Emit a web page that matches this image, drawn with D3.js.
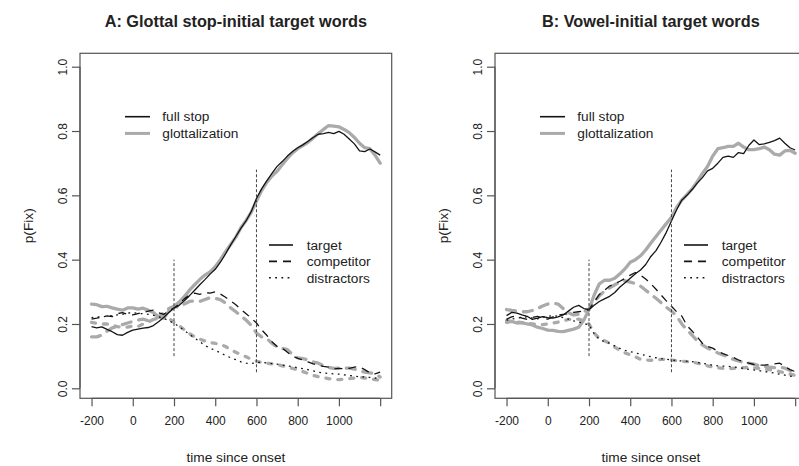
<!DOCTYPE html>
<html>
<head>
<meta charset="utf-8">
<script src="https://cdn.jsdelivr.net/npm/d3@7"></script>
<style>
  body { margin: 0; background: #fff; }
  svg { display: block; }
  text { font-family: "Liberation Sans", Arial, Helvetica, sans-serif; fill: #222; }
</style>
</head>
<body>
<svg id="chart" width="799" height="466"></svg>
<script>
// Time since onset (ms)
const times = [
  -200,-175,-150,-125,-100,-75,-50,-25,0,25,
  50,75,100,125,150,175,200,225,250,275,
  300,325,350,375,400,425,450,475,500,525,
  550,575,600,625,650,675,700,725,750,775,
  800,825,850,875,900,925,950,975,1000,1025,
  1050,1075,1100,1125,1150,1175,1200
];

// Panel A: glottal stop-initial target words
const aTargetFull = [
  .192,.188,.191,.183,.176,.167,.165,.174,.181,.184,
  .187,.189,.195,.207,.220,.236,.249,.258,.272,.288,
  .305,.322,.338,.355,.370,.392,.418,.446,.472,.498,
  .521,.550,.590,.620,.645,.668,.690,.705,.722,.736,
  .748,.757,.768,.780,.790,.792,.796,.792,.799,.790,
  .775,.760,.738,.736,.744,.735,.725
];
const aTargetGlott = [
  .262,.260,.254,.255,.250,.246,.243,.250,.250,.246,
  .249,.243,.236,.222,.218,.240,.255,.268,.285,.305,
  .322,.338,.352,.362,.378,.400,.425,.447,.470,.500,
  .522,.548,.582,.615,.640,.660,.675,.695,.715,.732,
  .745,.755,.765,.778,.792,.805,.817,.815,.813,.805,
  .795,.780,.762,.748,.745,.725,.700
];
const aCompFull = [
  .215,.218,.222,.225,.223,.232,.235,.230,.228,.232,
  .236,.240,.243,.235,.230,.240,.250,.262,.278,.290,
  .296,.292,.298,.296,.300,.293,.283,.272,.260,.245,
  .232,.218,.203,.182,.165,.145,.130,.125,.112,.100,
  .093,.088,.082,.076,.072,.068,.066,.060,.062,.061,
  .062,.066,.067,.058,.048,.045,.050
];
const aCompGlott = [
  .160,.160,.165,.178,.188,.192,.198,.203,.208,.212,
  .215,.210,.212,.222,.236,.248,.255,.252,.262,.270,
  .272,.270,.276,.282,.280,.276,.265,.250,.238,.225,
  .212,.195,.172,.160,.155,.140,.128,.124,.120,.105,
  .095,.092,.088,.082,.078,.070,.065,.062,.063,.062,
  .063,.060,.055,.050,.048,.046,.035
];
const aDistrFull = [
  .220,.222,.222,.224,.226,.228,.230,.234,.235,.233,
  .232,.230,.227,.222,.218,.210,.202,.192,.180,.168,
  .156,.145,.133,.125,.118,.110,.102,.095,.089,.082,
  .078,.077,.080,.081,.079,.077,.075,.072,.070,.067,
  .064,.061,.058,.054,.050,.048,.046,.045,.044,.042,
  .040,.038,.036,.035,.034,.032,.030
];
const aDistrGlott = [
  .205,.202,.200,.200,.196,.192,.190,.190,.194,.192,
  .200,.206,.214,.224,.228,.218,.205,.195,.182,.170,
  .160,.153,.147,.142,.140,.136,.130,.120,.112,.105,
  .098,.090,.084,.080,.078,.076,.074,.070,.066,.062,
  .058,.052,.046,.040,.036,.033,.030,.028,.027,.028,
  .030,.032,.034,.032,.030,.027,.025
];

// Panel B: vowel-initial target words
const bTargetFull = [
  .226,.236,.234,.228,.224,.214,.218,.223,.220,.218,
  .222,.228,.240,.252,.258,.248,.245,.258,.270,.278,
  .286,.298,.315,.328,.342,.356,.368,.385,.410,.428,
  .455,.485,.520,.555,.585,.600,.618,.638,.655,.676,
  .684,.700,.718,.722,.718,.733,.730,.755,.772,.758,
  .760,.765,.770,.778,.762,.748,.741
];
const bTargetGlott = [
  .205,.208,.203,.204,.200,.197,.190,.186,.181,.180,
  .177,.176,.180,.184,.190,.212,.245,.290,.325,.336,
  .336,.342,.356,.372,.392,.400,.412,.430,.452,.472,
  .492,.512,.532,.562,.585,.602,.620,.642,.668,.690,
  .722,.745,.748,.752,.752,.762,.750,.742,.742,.745,
  .750,.742,.728,.725,.738,.740,.731
];
const bCompFull = [
  .215,.222,.226,.218,.214,.220,.224,.218,.215,.222,
  .228,.230,.232,.236,.238,.240,.245,.268,.292,.305,
  .318,.325,.333,.342,.352,.360,.352,.340,.325,.308,
  .290,.272,.255,.238,.225,.195,.178,.160,.140,.130,
  .125,.115,.108,.102,.096,.088,.082,.078,.074,.072,
  .072,.074,.076,.078,.068,.058,.052
];
const bCompGlott = [
  .245,.242,.240,.238,.238,.242,.248,.256,.262,.265,
  .262,.248,.235,.228,.230,.238,.245,.268,.288,.302,
  .312,.322,.330,.334,.330,.326,.318,.305,.292,.280,
  .266,.252,.240,.225,.200,.182,.165,.148,.135,.125,
  .118,.110,.104,.098,.090,.085,.080,.078,.075,.070,
  .068,.066,.064,.066,.063,.055,.047
];
const bDistrFull = [
  .212,.215,.218,.220,.222,.218,.216,.220,.224,.226,
  .224,.220,.215,.210,.206,.202,.197,.170,.152,.145,
  .140,.132,.124,.118,.114,.110,.106,.102,.098,.095,
  .092,.090,.088,.086,.085,.084,.083,.080,.078,.075,
  .072,.070,.069,.068,.067,.064,.062,.059,.057,.055,
  .052,.050,.047,.044,.041,.038,.036
];
const bDistrGlott = [
  .210,.208,.206,.204,.202,.200,.198,.198,.200,.203,
  .206,.210,.214,.216,.215,.210,.200,.172,.155,.148,
  .140,.128,.118,.110,.104,.098,.090,.088,.087,.088,
  .090,.090,.088,.086,.084,.083,.082,.078,.075,.070,
  .066,.064,.062,.061,.062,.063,.064,.065,.064,.062,
  .060,.058,.056,.052,.048,.044,.040
];

const panelTitles = ["A: Glottal stop-initial target words", "B: Vowel-initial target words"];
const conditionNames = ["full stop", "glottalization"];
const roleNames = ["target", "competitor", "distractors"];
const xTicks = [-200, 0, 200, 400, 600, 800, 1000, 1200];
const xTickLabels = ["-200", "0", "200", "400", "600", "800", "1000", ""];
const yTicks = [0, 0.2, 0.4, 0.6, 0.8, 1.0];
const yTickLabels = ["0.0", "0.2", "0.4", "0.6", "0.8", "1.0"];
const markerTimes = [200, 600];
const markerLow = [0.10, 0.05];
const markerHigh = [0.40, 0.68];

// ---- styling ----
const condStyle = [
  { color: "#141414", width: 1.3, cap: "butt" },
  { color: "#aaaaaa", width: 3.3, cap: "round" }
];
const roleDash = [
  [null, null],
  ["8,6", "9,8"],
  ["1.8,4.4", "4,8"]
];

const svg = d3.select("#chart");
const boxW = 311.7, boxTop = 53.3, boxBottom = 398.3;
const panelLefts = [80, 495];

const panels = [
  [[aTargetFull, aCompFull, aDistrFull], [aTargetGlott, aCompGlott, aDistrGlott]],
  [[bTargetFull, bCompFull, bDistrFull], [bTargetGlott, bCompGlott, bDistrGlott]]
];

panels.forEach((panel, pi) => {
  const left = panelLefts[pi];
  const x = d3.scaleLinear().domain([-256, 1256]).range([left, left + boxW]);
  const y = d3.scaleLinear().domain([0, 1]).range([388.3, 66.7]);
  const g = svg.append("g");

  const clipId = "clip" + pi;
  svg.append("clipPath").attr("id", clipId)
    .append("rect").attr("x", left).attr("y", boxTop)
    .attr("width", boxW).attr("height", boxBottom - boxTop);

  // title
  g.append("text")
    .attr("x", left + boxW / 2).attr("y", 27)
    .attr("text-anchor", "middle")
    .style("font-weight", "bold").style("font-size", "16.3px")
    .text(panelTitles[pi]);

  // data lines: glottalization (grey) under full stop (black)
  const plot = g.append("g").attr("clip-path", `url(#${clipId})`);
  const line = d3.line().x((d, i) => x(times[i])).y(d => y(d));
  [1, 0].forEach(ci => {
    panel[ci].forEach((series, ri) => {
      const st = condStyle[ci];
      plot.append("path")
        .attr("d", line(series))
        .attr("fill", "none")
        .attr("stroke", st.color)
        .attr("stroke-width", st.width)
        .attr("stroke-linecap", st.cap)
        .attr("stroke-linejoin", "round")
        .attr("stroke-dasharray", roleDash[ri][ci]);
    });
  });

  // vertical reference markers
  markerTimes.forEach((t, i) => {
    g.append("line")
      .attr("x1", x(t)).attr("x2", x(t))
      .attr("y1", y(markerLow[i])).attr("y2", y(markerHigh[i]))
      .attr("stroke", "#444").attr("stroke-width", 1)
      .attr("stroke-dasharray", "3,2");
  });

  // frame
  g.append("rect")
    .attr("x", left).attr("y", boxTop)
    .attr("width", boxW).attr("height", boxBottom - boxTop)
    .attr("fill", "none").attr("stroke", "#555").attr("stroke-width", 1.2);

  // x axis
  const xAxis = d3.axisBottom(x).tickValues(xTicks)
    .tickFormat((d, i) => xTickLabels[i]).tickSize(8).tickPadding(10);
  const xg = g.append("g").attr("transform", `translate(0,${boxBottom})`).call(xAxis);
  xg.select(".domain").attr("d", `M${x(-200)},0H${x(1200)}`).attr("stroke", "#555").attr("stroke-width", 1.2);
  xg.selectAll(".tick line").attr("stroke", "#555").attr("stroke-width", 1.2);
  xg.selectAll(".tick text").style("font-size", "12px").attr("fill", "#222")
    .style("font-family", '"Liberation Sans", Arial, sans-serif');

  // y axis
  const yAxis = d3.axisLeft(y).tickValues(yTicks)
    .tickFormat((d, i) => yTickLabels[i]).tickSize(8);
  const yg = g.append("g").attr("transform", `translate(${left},0)`).call(yAxis);
  yg.select(".domain").attr("d", `M0,${y(0)}V${y(1)}`).attr("stroke", "#555").attr("stroke-width", 1.2);
  yg.selectAll(".tick line").attr("stroke", "#555").attr("stroke-width", 1.2);
  yg.selectAll(".tick text")
    .style("font-size", "12px").attr("fill", "#222")
    .style("font-family", '"Liberation Sans", Arial, sans-serif')
    .attr("x", null)
    .attr("text-anchor", "middle")
    .attr("transform", "translate(-17.5,0) rotate(-90)")
    .attr("dy", "0.35em");

  // axis titles
  g.append("text")
    .attr("x", left + boxW / 2).attr("y", 461.5)
    .attr("text-anchor", "middle").style("font-size", "13.7px")
    .text("time since onset");
  g.append("text")
    .attr("transform", `translate(${left - 52},${(boxTop + boxBottom) / 2}) rotate(-90)`)
    .attr("text-anchor", "middle").attr("dy", "0.35em").style("font-size", "13.7px")
    .text("p(Fix)");

  // legend: condition
  conditionNames.forEach((name, i) => {
    const ly = 116.7 + i * 16.7;
    const st = condStyle[i];
    g.append("line")
      .attr("x1", left + 45).attr("x2", left + 70).attr("y1", ly).attr("y2", ly)
      .attr("stroke", st.color).attr("stroke-width", i === 0 ? 1.6 : 3.0);
    g.append("text")
      .attr("x", left + 82.3).attr("y", ly).attr("dy", "0.35em")
      .style("font-size", "13.7px").text(name);
  });

  // legend: role
  roleNames.forEach((name, i) => {
    const ly = 245 + i * 16.4;
    g.append("line")
      .attr("x1", left + 189).attr("x2", left + 213).attr("y1", ly).attr("y2", ly)
      .attr("stroke", "#141414").attr("stroke-width", 1.6)
      .attr("stroke-dasharray", roleDash[i][0]);
    g.append("text")
      .attr("x", left + 226.7).attr("y", ly).attr("dy", "0.35em")
      .style("font-size", "13.7px").text(name);
  });
});
</script>
</body>
</html>
